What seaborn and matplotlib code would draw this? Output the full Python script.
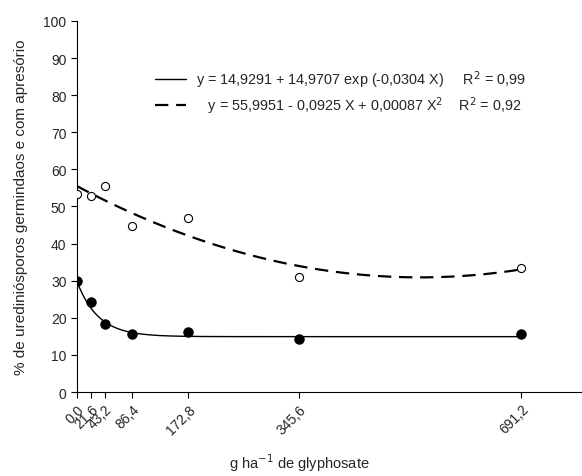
import numpy as np
import pandas as pd
import matplotlib
matplotlib.use('Agg')
import matplotlib.pyplot as plt
import seaborn as sns

# Doses of glyphosate (g/ha)
doses = [0.0, 21.6, 43.2, 86.4, 172.8, 345.6, 691.2]
dose_labels = ['0,0', '21,6', '43,2', '86,4', '172,8', '345,6', '691,2']

# % germinated urediniospores (filled) and with appressorium (open)
germinados = [29.8, 24.2, 18.3, 15.6, 16.3, 14.4, 15.7]
apresorio = [53.5, 52.8, 55.6, 44.7, 46.9, 31.1, 33.5]

# exponential model coefficients from the legend
exp_a, exp_b, exp_c = 14.9291, 14.9707, -0.0304

df = pd.DataFrame({'dose': doses, 'germ': germinados, 'apres': apresorio})

sns.set_style('ticks')
plt.rcParams['font.family'] = ['Liberation Sans', 'DejaVu Sans']
plt.rcParams['font.size'] = 10

fig = plt.figure(figsize=(5.82, 4.77), dpi=100)
ax = fig.add_axes([0.132, 0.176, 0.868, 0.778])

xs = np.linspace(0, 691.2, 300)
curve_exp = exp_a + exp_b * np.exp(exp_c * xs)
quad = np.polyfit(doses, apresorio, 2)
curve_quad = np.polyval(quad, xs)

sns.lineplot(x=xs, y=curve_exp, ax=ax, color='black', linewidth=1.0,
             label='y = 14,9291 + 14,9707 exp (-0,0304 X)     R$^2$ = 0,99')
sns.lineplot(x=xs, y=curve_quad, ax=ax, color='black', linewidth=1.6,
             linestyle=(0, (6, 3.5)),
             label='   y = 55,9951 - 0,0925 X + 0,00087 X$^2$    R$^2$ = 0,92')

sns.scatterplot(data=df, x='dose', y='germ', ax=ax, color='black', s=45,
                edgecolor='black', linewidth=0.8, zorder=5, legend=False)
sns.scatterplot(data=df, x='dose', y='apres', ax=ax, facecolor='white', s=34,
                edgecolor='black', linewidth=0.8, zorder=5, legend=False)

ax.set_xlim(0, 786)
ax.set_ylim(0, 100)
ax.set_yticks(range(0, 101, 10))
ax.set_xticks(doses)
ax.set_xticklabels(dose_labels, rotation=45, ha='right', rotation_mode='anchor')
ax.tick_params(axis='both', direction='out', length=4, width=0.8, labelsize=10,
               color='black')
ax.tick_params(axis='x', pad=3)
for s in ['top', 'right']:
    ax.spines[s].set_visible(False)
for s in ['left', 'bottom']:
    ax.spines[s].set_linewidth(0.8)
    ax.spines[s].set_color('black')

ax.set_ylabel('% de urediniósporos germindaos e com apresório', fontsize=11)
ax.yaxis.set_label_coords(-0.097, 0.5)
ax.set_xlabel('g ha$^{-1}$ de glyphosate', fontsize=10.5)
ax.xaxis.set_label_coords(0.44, -0.16)

leg = ax.legend(loc='upper left', bbox_to_anchor=(0.13, 0.908), frameon=False,
                fontsize=10.4, handlelength=2.1, handletextpad=0.72,
                labelspacing=0.35)

fig.savefig('out.png', dpi=100)
